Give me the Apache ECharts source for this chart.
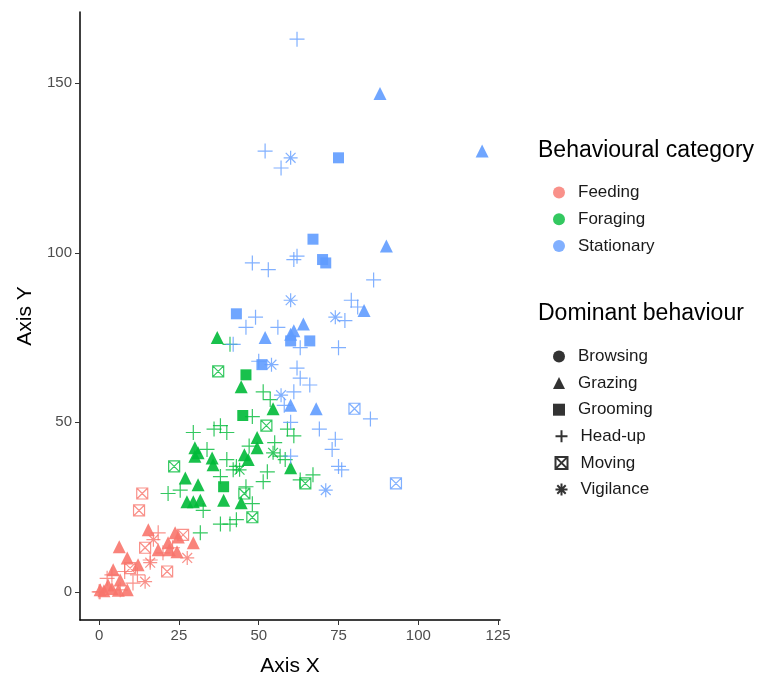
<!DOCTYPE html>
<html>
<head>
    <meta charset="utf-8">
    <script src="https://cdn.jsdelivr.net/npm/echarts@6/dist/echarts.min.js"></script>
</head>
<body style="margin: 0">
    <div id="container" style="width: 769px; height: 677px"></div>
    <script>
        var categories = ['Feeding', 'Foraging', 'Stationary']
        var colors = ['#F8766D', '#00BA38', '#619CFF']
        var behaviours = ['Browsing', 'Grazing', 'Grooming', 'Head-up', 'Moving', 'Vigilance']

        // [x, y] per category / behaviour
        var feedingGrazing = [[15.4,18.3],[6.3,13.3],[8.8,10],[12.2,8],[4.4,6.5],[23.8,17.4],[24.8,16.2],[21.6,14.5],[29.5,14.5],[18.5,12.4],[0.3,0.6],[8.8,0.6],[6.6,3.5],[2.8,2],[22,12.4],[24.4,11.8],[4,1],[6,0.5],[1.5,0.3]]
        var feedingHeadup = [[18.5,17.4],[2.5,4],[0.3,0],[20,11.5],[16,9.4],[6.6,0.6],[10.6,2.6],[0,0],[4,5],[8,6],[12,5],[23,13]]
        var feedingMoving = [[13.5,29],[12.5,24],[14.4,13],[21.3,6],[26.3,16.8],[9.7,7]]
        var feedingVigilance = [[27.6,10],[14.4,3],[17,15.4],[16,8.6]]

        var foragingGrazing = [[37,75],[44.5,60.5],[54.5,54],[60,36.6],[30,42.5],[31,41],[35.4,39.5],[35.7,37.5],[45.5,40.4],[46.7,39],[49.5,45.5],[49.5,42.5],[27,33.6],[31,31.6],[27.5,26.6],[29.5,26.6],[31.7,27],[39,27],[44.5,26.3],[30,40]]
        var foragingGrooming = [[46,64],[45,52],[39,31]]
        var foragingHeadup = [[41,73],[29.5,47],[38,49],[40,47],[51.4,59],[53.6,56.7],[48,51.7],[61,46],[59,48],[56.7,40],[58.3,39],[40,39],[42,36],[52.7,35.4],[51.4,32.5],[21.6,29],[25.4,30],[32.6,24],[38,20],[41,20],[43,21.3],[31.7,17.4],[48,26],[67,34.5],[33.8,42],[43,37],[36,48],[47,43],[55,44],[38,34],[46,31],[63,33]]
        var foragingMoving = [[37.3,65],[52.4,49],[23.5,37],[45.5,29],[48,22],[64.6,32]]
        var foragingVigilance = [[54.5,41],[44,36]]

        var stationaryGrazing = [[88,147],[120,130],[90,102],[83,83],[64,79],[52,75],[60,76],[60,55],[68,54],[61,77]]
        var stationaryGrooming = [[75,128],[67,104],[70,98],[71,97],[43,82],[51,67],[60,74],[66,74]]
        var stationaryHeadup = [[62,163],[52,130],[57,125],[48,97],[53,95],[61,98],[62,99],[86,92],[79,86],[81,84],[49,81],[46,78],[42,73],[56,78],[63,72],[75,72],[62,66],[63,63],[66,61],[61,59],[85,51],[69,48],[60,50],[74,45],[73,42],[75,37],[76,36],[60,40],[50,68],[58,55],[77,80]]
        var stationaryMoving = [[80,54],[93,32]]
        var stationaryVigilance = [[60,128],[60,86],[54,67],[74,81],[57,58],[71,30]]

        var symbols = {
            'Browsing': 'circle',
            'Grazing': 'triangle',
            'Grooming': 'rect',
            'Head-up': 'path://M0,5L10,5M5,0L5,10',
            'Moving': 'path://M0,0L10,0L10,10L0,10ZM0,0L10,10M10,0L0,10',
            'Vigilance': 'path://M5,0L5,10M0,5L10,5M1.5,1.5L8.5,8.5M8.5,1.5L1.5,8.5'
        }
        var sizes = { 'Browsing': 11, 'Grazing': 13, 'Grooming': 11, 'Head-up': 15, 'Moving': 11, 'Vigilance': 14 }
        var open = { 'Head-up': 1, 'Moving': 1, 'Vigilance': 1 }

        var data = [
            [0, 'Grazing', feedingGrazing], [0, 'Head-up', feedingHeadup], [0, 'Moving', feedingMoving], [0, 'Vigilance', feedingVigilance],
            [1, 'Grazing', foragingGrazing], [1, 'Grooming', foragingGrooming], [1, 'Head-up', foragingHeadup], [1, 'Moving', foragingMoving], [1, 'Vigilance', foragingVigilance],
            [2, 'Grazing', stationaryGrazing], [2, 'Grooming', stationaryGrooming], [2, 'Head-up', stationaryHeadup], [2, 'Moving', stationaryMoving], [2, 'Vigilance', stationaryVigilance]
        ]

        var series = []
        data.forEach(function (d) {
            var c = colors[d[0]], b = d[1]
            series.push({
                type: 'scatter',
                data: d[2],
                symbol: symbols[b],
                symbolSize: sizes[b],
                itemStyle: open[b]
                    ? { color: 'none', borderColor: c, borderWidth: 1.2, opacity: 0.8 }
                    : { color: c, opacity: 0.9 },
                emphasis: { disabled: true }
            })
        })
        // legend-only series, one legend per entry so spacing stays even
        var legends = []
        var legendText = { fontSize: 17, color: '#1a1a1a', fontFamily: 'Liberation Sans', padding: [0, 0, 0, 8] }
        categories.forEach(function (n, i) {
            series.push({ type: 'scatter', name: n, data: [], symbol: 'circle', itemStyle: { color: colors[i] } })
            legends.push({ data: [n], left: 548, top: 179 + i * 26.7, itemWidth: 12, itemHeight: 12, textStyle: legendText, selectedMode: false })
        })
        behaviours.forEach(function (n, i) {
            series.push({
                type: 'scatter', name: n, data: [], symbol: symbols[n],
                itemStyle: open[n] ? { color: 'none', borderColor: '#000', borderWidth: 1.2 } : { color: '#000' }
            })
            legends.push({ data: [n], left: 548, top: 343 + i * 26.6, itemWidth: 12, itemHeight: 12, textStyle: legendText, selectedMode: false })
        })

        var option = {
            animation: false,
            grid: { left: 80, top: 12, width: 420, height: 608, containLabel: false, outerBoundsMode: 'none' },
            xAxis: {
                type: 'value', min: -6, max: 125.6,
                name: 'Axis X', nameLocation: 'middle', nameGap: 36,
                nameTextStyle: { fontSize: 21, color: '#000', fontFamily: 'Liberation Sans' },
                splitLine: { show: false },
                axisLine: { onZero: false, lineStyle: { color: '#000', width: 1.5 } },
                axisTick: { show: true, customValues: [0, 25, 50, 75, 100, 125], lineStyle: { color: '#333' } },
                axisLabel: { customValues: [0, 25, 50, 75, 100, 125], fontSize: 15, color: '#4d4d4d', fontFamily: 'Liberation Sans' }
            },
            yAxis: {
                type: 'value', min: -8.3, max: 171,
                name: 'Axis Y', nameLocation: 'middle', nameGap: 44,
                nameTextStyle: { fontSize: 21, color: '#000', fontFamily: 'Liberation Sans' },
                splitLine: { show: false },
                axisLine: { show: true, onZero: false, lineStyle: { color: '#000', width: 1.5 } },
                axisTick: { show: true, customValues: [0, 50, 100, 150], lineStyle: { color: '#333' } },
                axisLabel: { customValues: [0, 50, 100, 150], fontSize: 15, color: '#4d4d4d', fontFamily: 'Liberation Sans' }
            },
            legend: legends,
            graphic: [
                { type: 'text', left: 538, top: 139, style: { text: 'Behavioural category', fontSize: 23, fill: '#000', fontFamily: 'Liberation Sans' } },
                { type: 'text', left: 538, top: 302, style: { text: 'Dominant behaviour', fontSize: 23, fill: '#000', fontFamily: 'Liberation Sans' } }
            ],
            series: series
        }
        echarts.init(document.getElementById('container')).setOption(option)
    </script>
</body>
</html>
